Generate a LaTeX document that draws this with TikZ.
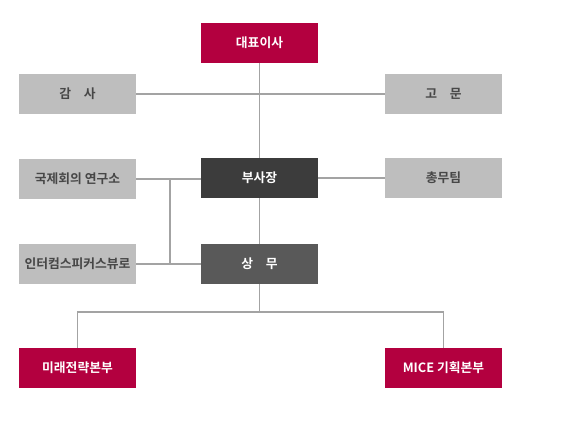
\documentclass[tikz,border=0pt]{standalone}
\usepackage{fontspec}
\setmainfont{Noto Sans CJK KR}[BoldFont={Noto Sans CJK KR Bold}]
\definecolor{crim}{HTML}{B3003F}
\definecolor{lgray}{HTML}{BEBEBE}
\definecolor{tgray}{HTML}{474747}
\definecolor{dark}{HTML}{3C3C3C}
\definecolor{mid}{HTML}{595959}
\definecolor{lines}{HTML}{A3A3A3}
\begin{document}
\begin{tikzpicture}[x=0.75pt,y=-0.75pt,
  box/.style={minimum width=87.75pt,minimum height=30pt,inner sep=0pt,font=\fontsize{9.6pt}{11pt}\selectfont\bfseries},
  redbox/.style={box,fill=crim,text=white},
  graybox/.style={box,fill=lgray,text=tgray},
  darkbox/.style={box,fill=dark,text=white},
  midbox/.style={box,fill=mid,text=white},
  conn/.style={draw=lines,line width=1.1pt}]
\useasboundingbox[fill=white] (0,0) rectangle (564,427);
\node[redbox] (ceo) at (259.5,43) {대표이사};
\node[graybox] (audit) at (77.5,94) {감\hspace{1em}사};
\node[graybox] (adv) at (443.5,94) {고\hspace{1em}문};
\node[graybox] (inst) at (77.5,179) {국제회의 연구소};
\node[darkbox] (vp) at (259.5,178) {부사장};
\node[graybox] (gen) at (443.5,178) {총무팀};
\node[graybox] (icsb) at (77.5,264) {인터컴스피커스뷰로};
\node[midbox] (exec) at (259.5,264) {상\hspace{1em}무};
\node[redbox] (fut) at (77.5,368) {미래전략본부};
\node[redbox] (mice) at (443.5,368) {MICE 기획본부};
\coordinate (j1) at (170,179);
\coordinate (j2) at (170,265);
\coordinate (b) at (259.5,312);
\draw[conn] (audit.east) -- (adv.west);
\draw[conn] (ceo.south) -- (vp.north);
\draw[conn] (vp.south) -- (exec.north);
\draw[conn] (inst.east |- j1) -- (j1) -- (vp.west |- j1);
\draw[conn] (gen.west) -- (vp.east);
\draw[conn] (icsb.east) -- (exec.west);
\draw[conn] (j1) -- (j2);
\draw[conn] (exec.south) -- (b);
\draw[conn] (fut.north) -- (fut.north |- b) -- (mice.north |- b) -- (mice.north);
\end{tikzpicture}
\end{document}
